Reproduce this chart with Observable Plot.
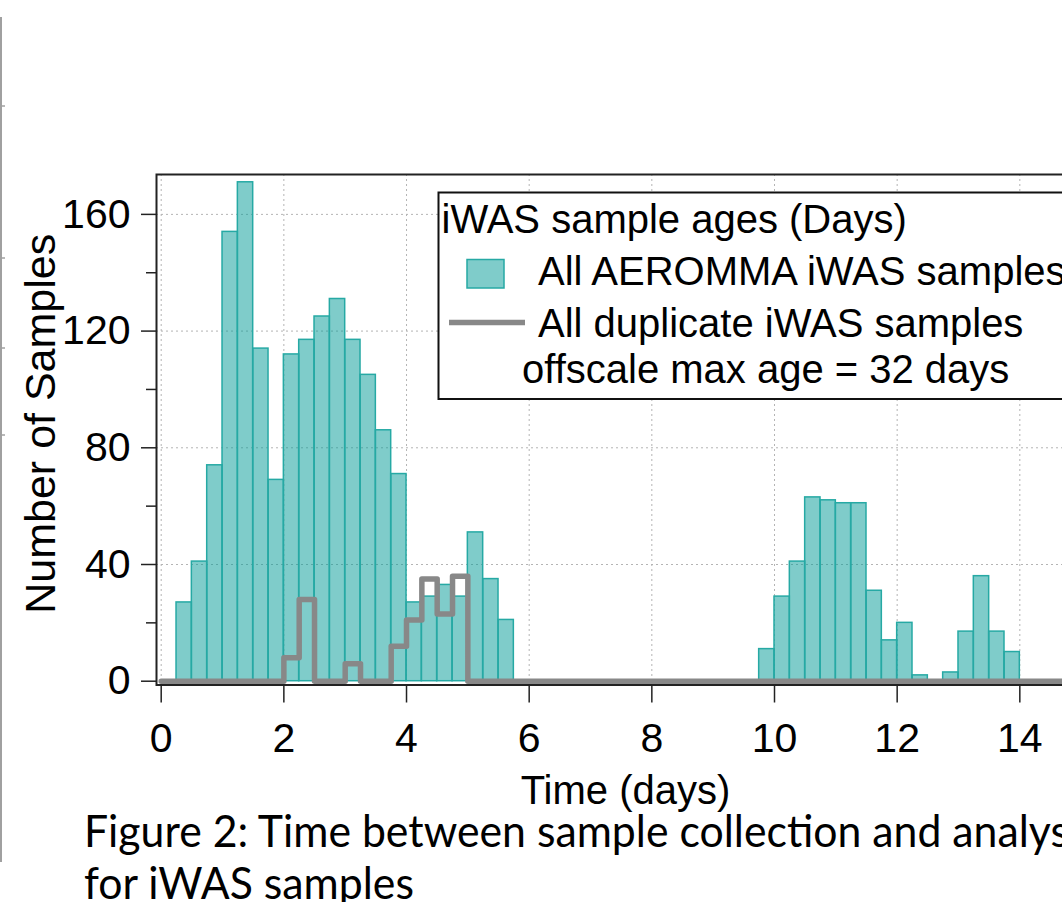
<!DOCTYPE html>
<html><head><meta charset="utf-8">
<script src="https://cdn.jsdelivr.net/npm/d3@7"></script>
<script src="https://cdn.jsdelivr.net/npm/@observablehq/plot@0.6"></script>
<style>
html,body{margin:0;padding:0;background:#fff;}
#wrap{position:relative;width:1062px;height:902px;overflow:hidden;background:#fff;}
#chart{position:absolute;left:0;top:0;width:1100px;}
#chart svg{max-width:none !important;}
#overlay{position:absolute;left:0;top:0;}
</style></head>
<body>
<div id="wrap"><div id="chart"></div><svg id="overlay" width="1062" height="902"></svg></div>
<script>
// ---- data (bins of 0.25 day) ----
const binWidth = 0.25;
const binStart = [0, 0.25, 0.5, 0.75, 1, 1.25, 1.5, 1.75, 2, 2.25, 2.5, 2.75, 3, 3.25, 3.5, 3.75,
  4, 4.25, 4.5, 4.75, 5, 5.25, 5.5, 5.75, 6, 6.25, 6.5, 6.75, 7, 7.25, 7.5, 7.75,
  8, 8.25, 8.5, 8.75, 9, 9.25, 9.5, 9.75, 10, 10.25, 10.5, 10.75, 11, 11.25, 11.5, 11.75,
  12, 12.25, 12.5, 12.75, 13, 13.25, 13.5, 13.75, 14, 14.25, 14.5, 14.75];
const allSamples = [0, 27, 41, 74, 154, 171, 114, 69, 112, 117, 125, 131, 117, 105, 86, 71,
  27, 29, 33, 29, 51, 35, 21, 0, 0, 0, 0, 0, 0, 0, 0, 0,
  0, 0, 0, 0, 0, 0, 0, 11, 29, 41, 63, 62, 61, 61, 31, 14,
  20, 2, 0, 3, 17, 36, 17, 10, 0, 0, 0, 0];
const duplicateSamples = [0, 0, 0, 0, 0, 0, 0, 0, 8, 28, 0, 0, 6, 0, 0, 12,
  21, 35, 23, 36, 0, 0, 0, 0, 0, 0, 0, 0, 0, 0, 0, 0,
  0, 0, 0, 0, 0, 0, 0, 0, 0, 0, 0, 0, 0, 0, 0, 0,
  0, 0, 0, 0, 0, 0, 0, 0, 0, 0, 0, 0];
const xTicks = [0, 2, 4, 6, 8, 10, 12, 14];
const yTicks = [0, 40, 80, 120, 160];
const yMinorTicks = [20, 60, 100, 140];
const xLabel = "Time (days)";
const yLabel = "Number of Samples";
const legendTitle = "iWAS sample ages (Days)";
const legendItems = ["All AEROMMA iWAS samples", "All duplicate iWAS samples"];
const legendNote = "offscale max age = 32 days";
const captionLines = ["Figure 2: Time between sample collection and analysis", "for iWAS samples"];

// ---- styles ----
const fontFamily = '"Liberation Sans", Arial, Helvetica, sans-serif';
const barFill = "#009a96";
const barStroke = "#26a9a4";
const dupColor = "#888888";
const axisColor = "#222";

const bars = binStart.map((x, i) => ({x1: x, x2: x + binWidth, n: allSamples[i]})).filter(d => d.n > 0);
const dupLine = binStart.map((x, i) => ({x, y: duplicateSamples[i]}));
dupLine.push({x: binStart[binStart.length - 1] + binWidth, y: duplicateSamples[duplicateSamples.length - 1]});

const chart = Plot.plot({
  width: 1100,
  height: 815,
  marginLeft: 156,
  marginRight: 0,
  marginTop: 174,
  marginBottom: 130.5,
  style: {fontFamily, background: "transparent", color: "#000", overflow: "visible", maxWidth: "none"},
  x: {domain: [-0.0766, 15.3154], axis: null},
  y: {domain: [-1.3, 173.67], axis: null},
  marks: [
    Plot.gridX(xTicks, {stroke: "#b4b4b4", strokeOpacity: 1, strokeWidth: 1, strokeDasharray: "2,3"}),
    Plot.gridY(yTicks.filter(d => d > 0), {stroke: "#b4b4b4", strokeOpacity: 1, strokeWidth: 1, strokeDasharray: "2,3"}),
    Plot.rectY(bars, {x1: "x1", x2: "x2", y: "n", fill: barFill, fillOpacity: 0.5, stroke: barStroke, strokeWidth: 1.5, inset: 0}),
    Plot.line(dupLine, {x: "x", y: "y", curve: "step-after", stroke: dupColor, strokeWidth: 5.5, strokeLinejoin: "round"}),
    Plot.frame({stroke: axisColor, strokeWidth: 2}),
    Plot.axisX(xTicks, {anchor: "bottom", tickSize: 18, tickPadding: 19.5, fontSize: 41, stroke: axisColor, strokeWidth: 1.5, label: null}),
    Plot.axisY(yTicks, {anchor: "left", tickSize: 15, tickPadding: 11, fontSize: 41, stroke: axisColor, strokeWidth: 1.5, label: null}),
    Plot.axisY(yMinorTicks, {anchor: "left", tickSize: 10, tickFormat: () => "", stroke: axisColor, strokeWidth: 1.5, label: null}),
    Plot.text([yLabel], {frameAnchor: "left", rotate: -90, dx: -115.4, dy: -6, fontSize: 43, textAnchor: "middle", lineAnchor: "middle", fill: "#000"}),
    Plot.text([xLabel], {frameAnchor: "bottom", dx: -3, dy: 90.5, fontSize: 40, textAnchor: "middle", lineAnchor: "top", fill: "#000"})
  ]
});
document.getElementById("chart").appendChild(chart);

// ---- overlay: page edge, legend, caption ----
const overlay = d3.select("#overlay");
overlay.append("line").attr("x1", 1).attr("x2", 1).attr("y1", 17).attr("y2", 862)
  .attr("stroke", "#a0a0a0").attr("stroke-width", 2);
[106, 258, 348, 435].forEach(y => overlay.append("line").attr("x1", 1).attr("x2", 5)
  .attr("y1", y).attr("y2", y).attr("stroke", "#a0a0a0").attr("stroke-width", 1.5));

const lg = overlay.append("g").attr("font-family", fontFamily).attr("font-size", 40).attr("fill", "#000");
lg.append("rect").attr("x", 438.5).attr("y", 192.5).attr("width", 700).attr("height", 206.5)
  .attr("fill", "#fff").attr("stroke", "#111").attr("stroke-width", 2);
lg.append("text").attr("x", 441.5).attr("y", 233).text(legendTitle);
lg.append("rect").attr("x", 467).attr("y", 259.5).attr("width", 37).attr("height", 28.5)
  .attr("fill", barFill).attr("fill-opacity", 0.5).attr("stroke", barStroke).attr("stroke-width", 1.5);
lg.append("text").attr("x", 538).attr("y", 285).text(legendItems[0]);
lg.append("line").attr("x1", 449).attr("x2", 525).attr("y1", 322.5).attr("y2", 322.5)
  .attr("stroke", dupColor).attr("stroke-width", 5.5);
lg.append("text").attr("x", 538).attr("y", 336.7).text(legendItems[1]);
lg.append("text").attr("x", 522).attr("y", 383).text(legendNote);

const cap = overlay.append("g").attr("font-family", 'Lato, "Open Sans", sans-serif').attr("font-size", 44).attr("fill", "#000");
const t1 = cap.append("text").attr("x", 84).attr("y", 846.7).text(captionLines[0]);
const t2 = cap.append("text").attr("x", 84).attr("y", 899).text(captionLines[1]);
const probe = cap.append("text").attr("x", 0).attr("y", -100).text(captionLines[0].slice(0, -2));
const pw = probe.node().getComputedTextLength();
probe.remove();
const ratio = 985 / pw;
[t1, t2].forEach(t => {
  const w = t.node().getComputedTextLength();
  t.attr("textLength", w * ratio).attr("lengthAdjust", "spacingAndGlyphs");
});
</script>
</body></html>
